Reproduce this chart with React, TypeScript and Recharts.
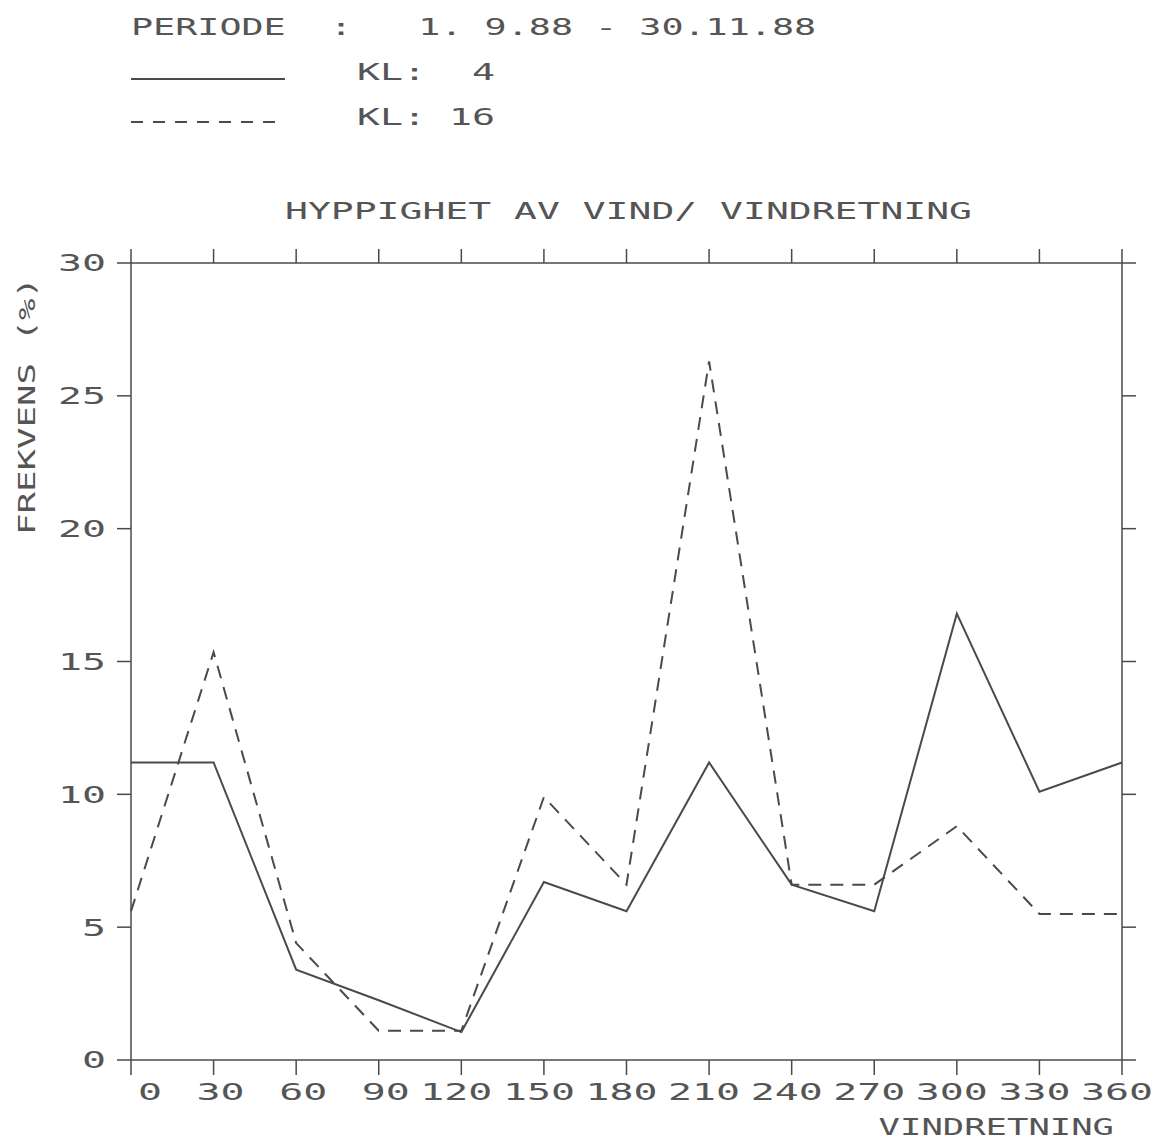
import React from 'react';
import { LineChart, Line, XAxis, YAxis, Legend, Label } from 'recharts';

// ---- data ----
const angles = [0, 30, 60, 90, 120, 150, 180, 210, 240, 270, 300, 330, 360];
const kl4 = [11.2, 11.2, 3.4, 2.25, 1.05, 6.7, 5.6, 11.2, 6.6, 5.6, 16.8, 10.1, 11.2];
const kl16 = [5.6, 15.35, 4.4, 1.1, 1.1, 9.9, 6.6, 26.3, 6.6, 6.6, 8.8, 5.5, 5.5];
const xTicks = [0, 30, 60, 90, 120, 150, 180, 210, 240, 270, 300, 330, 360];
const yTicks = [0, 5, 10, 15, 20, 25, 30];

const headerText = 'PERIODE  :   1. 9.88 - 30.11.88';
const seriesLabels = ['KL:  4', 'KL: 16'];
const titleText = 'HYPPIGHET AV VIND/ VINDRETNING';
const yLabelText = 'FREKVENS (%)';
const xLabelText = 'VINDRETNING';

const data = angles.map((a, i) => ({ angle: a, kl4: kl4[i], kl16: kl16[i] }));

const INK = '#4a4a4a';
const TEXT_INK = '#555555';
const FONT = '"DejaVu Sans Mono", "Liberation Mono", monospace';
const DASH = '13 9';

type PTProps = { x: number; y: number; text: string; cell: number; anchor?: 'start' | 'middle' | 'end' };
function PlotText({ x, y, text, cell, anchor = 'start' }: PTProps) {
  const len = text.length * cell;
  const sx = anchor === 'middle' ? x - len / 2 : anchor === 'end' ? x - len : x;
  return (
    <text
      x={sx}
      y={y}
      textLength={len}
      lengthAdjust="spacingAndGlyphs"
      fontFamily={FONT}
      fontSize={23}
      fill={TEXT_INK}
      style={{ whiteSpace: 'pre' }}
    >
      {text}
    </text>
  );
}

const XTick = (props: any) => (
  <PlotText x={props.x + 31} y={props.y + 23} text={String(props.payload.value)} cell={24} anchor="end" />
);
const YTick = (props: any) => (
  <PlotText x={props.x - 9} y={props.y + 8.4} text={String(props.payload.value)} cell={24} anchor="end" />
);
const NoLabel = () => <g />;

const HeaderLegend = () => (
  <svg width={900} height={140} style={{ display: 'block' }}>
    <PlotText x={131} y={35} text={headerText} cell={22.1} />
    <line x1={131} y1={79} x2={285} y2={79} stroke={INK} strokeWidth={2} />
    <PlotText x={357} y={80} text={seriesLabels[0]} cell={23} />
    <line x1={131} y1={122} x2={285} y2={122} stroke={INK} strokeWidth={2} strokeDasharray="12 10" />
    <PlotText x={357} y={125} text={seriesLabels[1]} cell={23} />
  </svg>
);

const TitleLabel = (props: any) => {
  const vb = props.viewBox || { x: 131, y: 233, width: 991, height: 30 };
  return <PlotText x={vb.x + vb.width / 2 + 2} y={vb.y - 14} text={titleText} cell={22.9} anchor="middle" />;
};

const XLabel = (props: any) => {
  const vb = props.viewBox || { x: 131, y: 1060, width: 991, height: 79 };
  return <PlotText x={vb.x + vb.width - 8} y={vb.y + 75} text={xLabelText} cell={21.4} anchor="end" />;
};

const YLabel = (props: any) => {
  const vb = props.viewBox || { x: 0, y: 263, width: 131, height: 797 };
  const cx = vb.x + 27;
  const cy = vb.y + 143;
  return (
    <g transform={`translate(${cx},${cy}) rotate(-90)`}>
      <PlotText x={0} y={8.4} text={yLabelText} cell={21.5} anchor="middle" />
    </g>
  );
};

const axisStroke = { stroke: INK, strokeWidth: 1.5 };

export default function App() {
  return (
    <div style={{ position: 'absolute', left: 0, top: 0, width: 1152, height: 1139, background: '#fff' }}>
      <LineChart width={1152} height={1139} data={data} margin={{ top: 233, right: 0, bottom: 0, left: 0 }}>
        <XAxis
          dataKey="angle"
          type="number"
          domain={[0, 360]}
          ticks={xTicks}
          interval={0}
          height={79}
          tickSize={15}
          axisLine={axisStroke}
          tickLine={axisStroke}
          tick={XTick}
        >
          <Label content={XLabel} />
        </XAxis>
        <XAxis
          xAxisId="top"
          orientation="top"
          dataKey="angle"
          type="number"
          domain={[0, 360]}
          ticks={xTicks}
          interval={0}
          height={30}
          tickSize={14}
          axisLine={axisStroke}
          tickLine={axisStroke}
          tick={NoLabel}
        >
          <Label content={TitleLabel} />
        </XAxis>
        <YAxis
          type="number"
          domain={[0, 30]}
          ticks={yTicks}
          interval={0}
          width={131}
          tickSize={14}
          axisLine={axisStroke}
          tickLine={axisStroke}
          tick={YTick}
        >
          <Label content={YLabel} />
        </YAxis>
        <YAxis
          yAxisId="right"
          orientation="right"
          dataKey="kl16"
          type="number"
          domain={[0, 30]}
          ticks={yTicks}
          interval={0}
          width={30}
          tickSize={14}
          axisLine={axisStroke}
          tickLine={axisStroke}
          tick={NoLabel}
        />
        <Legend
          layout="vertical"
          align="center"
          verticalAlign="middle"
          content={HeaderLegend}
          wrapperStyle={{ top: 0, left: 0, width: 900, height: 140 }}
        />
        <Line
          type="linear"
          dataKey="kl4"
          stroke={INK}
          strokeWidth={2}
          dot={false}
          isAnimationActive={false}
        />
        <Line
          type="linear"
          dataKey="kl16"
          stroke={INK}
          strokeWidth={2}
          strokeDasharray={DASH}
          dot={false}
          isAnimationActive={false}
        />
      </LineChart>
    </div>
  );
}
